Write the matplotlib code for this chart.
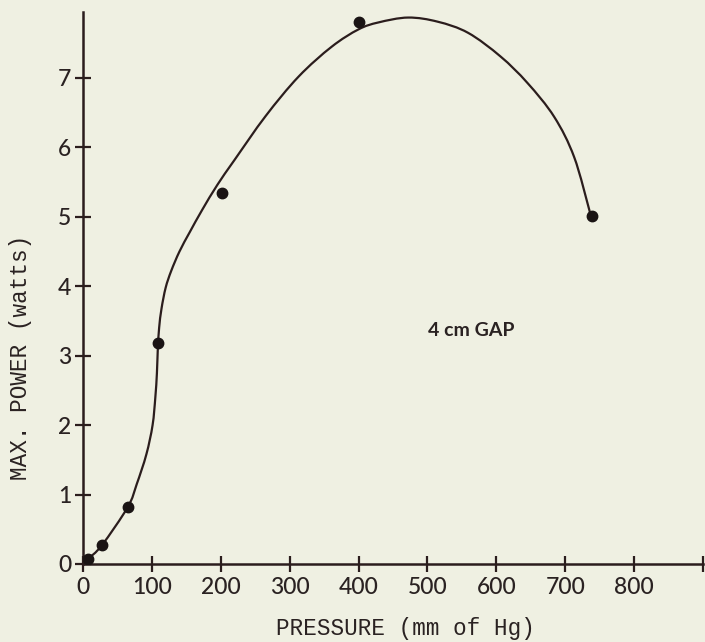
import matplotlib
matplotlib.use("Agg")
import matplotlib.pyplot as plt
from matplotlib.path import Path
from matplotlib.patches import PathPatch

# measured data points
pressure = [7, 27, 65, 109, 202, 400, 739]
power = [0.07, 0.27, 0.82, 3.18, 5.35, 7.80, 5.01]

# hand-drawn fitted curve
curve_x = [0, 7, 27.4, 65, 78, 92, 101, 105, 107.3, 108.6, 110.5, 114, 120, 128, 140,
           155, 173, 195, 220, 265, 313, 361, 400, 429, 472, 515, 559, 606,
           645, 684, 713, 736]
curve_y = [0, 0.07, 0.27, 0.82, 1.15, 1.58, 2.0, 2.4, 2.75, 3.1, 3.4, 3.68, 3.98, 4.22, 4.5,
           4.78, 5.10, 5.46, 5.82, 6.45, 7.02, 7.45, 7.70, 7.80, 7.87, 7.81, 7.65, 7.31,
           6.93, 6.44, 5.86, 5.06]

x_ticks = [0, 100, 200, 300, 400, 500, 600, 700, 800, 900]
x_tick_labels = ["0", "100", "200", "300", "400", "500", "600", "700", "800", ""]
y_ticks = [0, 1, 2, 3, 4, 5, 6, 7]
y_tick_labels = ["0", "1", "2", "3", "4", "5", "6", "7"]

bg = "#eff0e2"
ink = "#2b1d1d"

fig = plt.figure(figsize=(7.05, 6.42), dpi=100, facecolor=bg)
ax = fig.add_axes([83/705, 78/642, 620/705, 552/642])
ax.set_facecolor(bg)

ax.set_xlim(0, 900)
ax.set_ylim(0, 7.95)

# smooth drawing of the read curve: Catmull-Rom through the points, done in display space
pts = ax.transData.transform(list(zip(curve_x, curve_y)))
verts = [tuple(pts[0])]
codes = [Path.MOVETO]
n = len(pts)
for i in range(n - 1):
    p0 = pts[i - 1] if i > 0 else pts[i]
    p1 = pts[i]
    p2 = pts[i + 1]
    p3 = pts[i + 2] if i + 2 < n else pts[i + 1]
    c1 = p1 + (p2 - p0) / 6.0
    c2 = p2 - (p3 - p1) / 6.0
    verts += [tuple(c1), tuple(c2), tuple(p2)]
    codes += [Path.CURVE4] * 3
inv = ax.transData.inverted()
verts = inv.transform(verts)
ax.add_patch(PathPatch(Path(verts, codes), fill=False, edgecolor=ink, lw=1.6,
                       capstyle="round", joinstyle="round"))

ax.plot(pressure, power, "o", color="#1a1414", ms=7.5, zorder=3)

for s in ["top", "right"]:
    ax.spines[s].set_visible(False)
for s in ["left", "bottom"]:
    ax.spines[s].set_color(ink)
    ax.spines[s].set_linewidth(1.8)

ax.set_xticks(x_ticks)
ax.set_xticklabels(x_tick_labels)
ax.set_yticks(y_ticks)
ax.set_yticklabels(y_tick_labels)
ax.tick_params(axis="both", direction="inout", length=11, width=1.6, color=ink,
               labelcolor="#2a2222", labelsize=16.5)
ax.tick_params(axis="x", pad=4)
ax.tick_params(axis="y", pad=3)
for lab in ax.get_xticklabels() + ax.get_yticklabels():
    lab.set_family("Lato")
    lab.set_fontweight("medium")

ax.set_xlabel("PRESSURE (mm of Hg)", family="Liberation Mono", fontsize=16.3,
              color="#2a2222", va="center")
ax.xaxis.set_label_coords(0.52, -0.116)
ax.set_ylabel("MAX. POWER (watts)", family="Liberation Mono", fontsize=16.3,
              color="#2a2222", va="center")
ax.yaxis.set_label_coords(-0.101, 0.375)

ax.text(563, 3.37, "4 cm GAP", family="Lato", fontsize=14, fontweight="bold",
        color="#2a2222", ha="center", va="center")

fig.savefig("out.png", dpi=100, facecolor=bg)
